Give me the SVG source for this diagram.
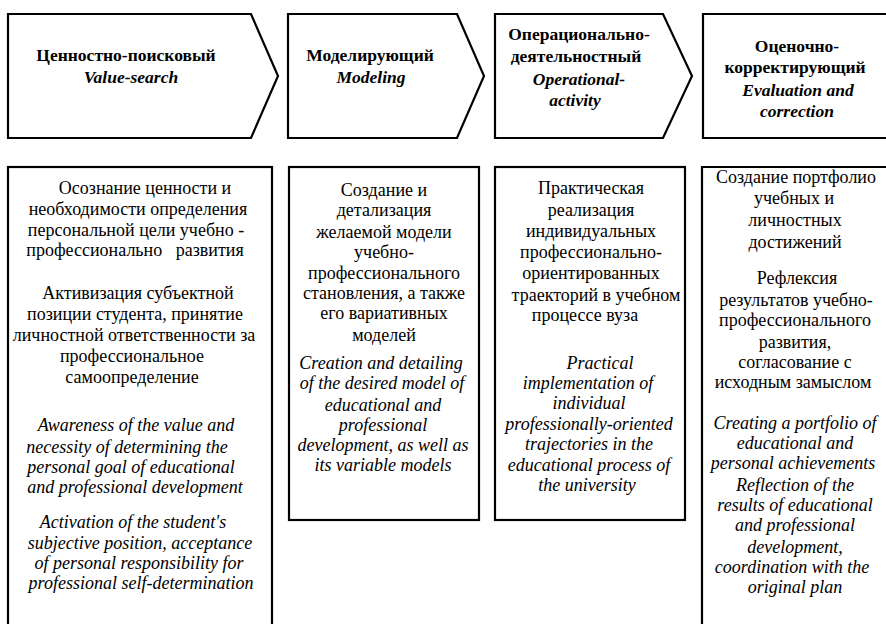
<svg xmlns="http://www.w3.org/2000/svg" width="886" height="624" viewBox="0 0 886 624">
<style>
.shape{fill:#fff;stroke:#000;stroke-width:2.2}
.h{font-size:17.5px;font-weight:bold;text-anchor:middle;fill:#000}
.hi{font-style:italic}
.t{font-size:18px;text-anchor:middle;fill:#000}
.i{font-style:italic}
</style>
<rect width="886" height="624" fill="#fff"/>
<g font-family="Liberation Serif, Times New Roman, DejaVu Serif, serif">
<g id="stage1-header">
<polygon class="shape" points="8,14 251,14 278,76 251,138 8,138"/>
<text class="h" x="126" y="61">Ценностно-поисковый</text>
<text class="h hi" x="131" y="83">Value-search</text>
</g>
<g id="stage2-header">
<polygon class="shape" points="288,14 457,14 484,76 457,138 288,138"/>
<text class="h" x="370" y="61">Моделирующий</text>
<text class="h hi" x="371" y="83">Modeling</text>
</g>
<g id="stage3-header">
<polygon class="shape" points="495,14 663,14 692,76 663,138 495,138"/>
<text class="h" x="579" y="40">Операционально-</text>
<text class="h" x="576" y="62">деятельностный</text>
<text class="h hi" x="579" y="85">Operational-</text>
<text class="h hi" x="575" y="106">activity</text>
</g>
<g id="stage4-header">
<path class="shape" d="M892,14 H703 V138 H892"/>
<text class="h" x="797" y="52">Оценочно-</text>
<text class="h" x="795" y="73">корректирующий</text>
<text class="h hi" x="798" y="96">Evaluation and</text>
<text class="h hi" x="797" y="117">correction</text>
</g>
<g id="stage1-content">
<rect class="shape" x="8" y="167" width="264" height="470"/>
<text class="t" x="145" y="194">Осознание ценности и</text>
<text class="t" x="138" y="215">необходимости определения</text>
<text class="t" x="136" y="236">персональной цели учебно -</text>
<text class="t" x="135" y="256" xml:space="preserve">профессионально   развития</text>
<text class="t" x="138" y="299">Активизация субъектной</text>
<text class="t" x="135" y="320">позиции студента, принятие</text>
<text class="t" x="134" y="341">личностной ответственности за</text>
<text class="t" x="132" y="362">профессиональное</text>
<text class="t" x="132" y="383">самоопределение</text>
<text class="t i" x="136" y="431">Awareness of the value and</text>
<text class="t i" x="127" y="453">necessity of determining the</text>
<text class="t i" x="131" y="473">personal goal of educational</text>
<text class="t i" x="135" y="493">and professional development</text>
<text class="t i" x="133" y="528">Activation of the student's</text>
<text class="t i" x="140" y="549">subjective position, acceptance</text>
<text class="t i" x="139" y="569">of personal responsibility for</text>
<text class="t i" x="141" y="589">professional self-determination</text>
</g>
<g id="stage2-content">
<rect class="shape" x="289" y="167" width="190" height="353"/>
<text class="t" x="384" y="196">Создание и</text>
<text class="t" x="384" y="216">детализация</text>
<text class="t" x="384" y="238">желаемой модели</text>
<text class="t" x="384" y="258">учебно-</text>
<text class="t" x="384" y="279">профессионального</text>
<text class="t" x="384" y="299">становления, а также</text>
<text class="t" x="384" y="319">его вариативных</text>
<text class="t" x="384" y="341">моделей</text>
<text class="t i" x="381" y="369">Creation and detailing</text>
<text class="t i" x="382" y="389">of the desired model of</text>
<text class="t i" x="383" y="411">educational and</text>
<text class="t i" x="383" y="431">professional</text>
<text class="t i" x="383" y="451">development, as well as</text>
<text class="t i" x="383" y="471">its variable models</text>
</g>
<g id="stage3-content">
<rect class="shape" x="495" y="167" width="190" height="353"/>
<text class="t" x="591" y="194">Практическая</text>
<text class="t" x="591" y="216">реализация</text>
<text class="t" x="591" y="237">индивидуальных</text>
<text class="t" x="591" y="258">профессионально-</text>
<text class="t" x="591" y="279">ориентированных</text>
<text class="t" x="596" y="301">траекторий в учебном</text>
<text class="t" x="585" y="321">процессе вуза</text>
<text class="t i" x="600" y="369">Practical</text>
<text class="t i" x="588" y="389">implementation of</text>
<text class="t i" x="589" y="409">individual</text>
<text class="t i" x="589" y="430">professionally-oriented</text>
<text class="t i" x="589" y="450">trajectories in the</text>
<text class="t i" x="589" y="471">educational process of</text>
<text class="t i" x="587" y="491">the university</text>
</g>
<g id="stage4-content">
<path class="shape" d="M892,167 H702 V640"/>
<text class="t" x="796" y="183">Создание портфолио</text>
<text class="t" x="794" y="204">учебных и</text>
<text class="t" x="795" y="226">личностных</text>
<text class="t" x="795" y="248">достижений</text>
<text class="t" x="797" y="284">Рефлексия</text>
<text class="t" x="796" y="306">результатов учебно-</text>
<text class="t" x="795" y="326">профессионального</text>
<text class="t" x="795" y="348">развития,</text>
<text class="t" x="795" y="368">согласование с</text>
<text class="t" x="793" y="388">исходным замыслом</text>
<text class="t i" x="795" y="429">Creating a portfolio of</text>
<text class="t i" x="795" y="449">educational and</text>
<text class="t i" x="793" y="469">personal achievements</text>
<text class="t i" x="795" y="491">Reflection of the</text>
<text class="t i" x="795" y="511">results of educational</text>
<text class="t i" x="795" y="531">and professional</text>
<text class="t i" x="795" y="553">development,</text>
<text class="t i" x="792" y="573">coordination with the</text>
<text class="t i" x="795" y="593">original plan</text>
</g>
</g>
<g id="connectors"/>
</svg>
